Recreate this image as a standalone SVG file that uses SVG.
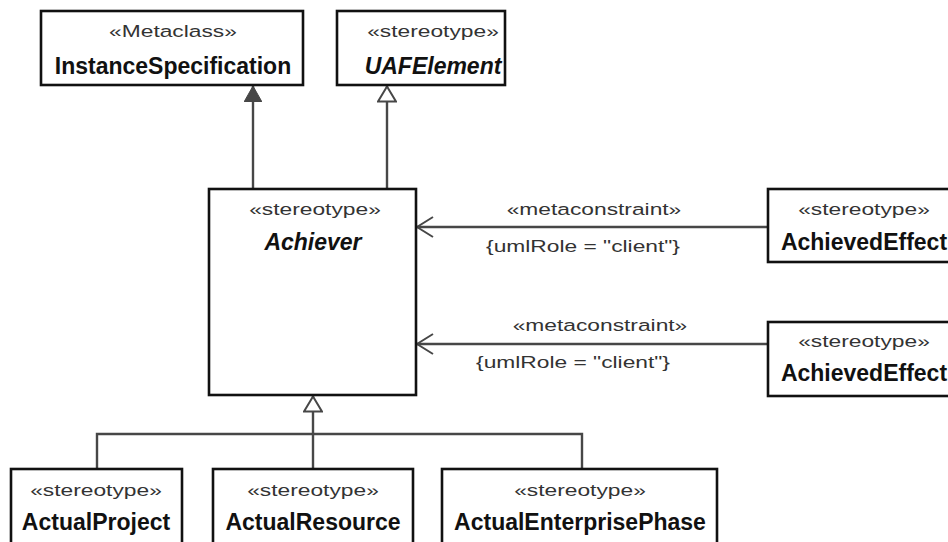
<svg xmlns="http://www.w3.org/2000/svg" width="948" height="542" viewBox="0 0 948 542">
<style>
.box{fill:#fff;stroke:#111;stroke-width:2.6}
.st{font-family:"Liberation Sans",Arial,sans-serif;font-size:17px;fill:#333;text-anchor:middle}
.nm{font-family:"Liberation Sans",Arial,sans-serif;font-size:23px;font-weight:bold;fill:#111;text-anchor:middle}
.it{font-style:italic}
.ln{fill:none;stroke:#474747;stroke-width:2.4}
</style>
<defs>
<marker id="filled" viewBox="0 0 17 18" refX="16" refY="9" markerWidth="17" markerHeight="18" markerUnits="userSpaceOnUse" orient="auto">
<path d="M0,0 L16,9 L0,18 Z" fill="#474747" stroke="#474747" stroke-width="1"/>
</marker>
<marker id="hollow" viewBox="0 0 18 20" refX="16.5" refY="10" markerWidth="18" markerHeight="20" markerUnits="userSpaceOnUse" orient="auto">
<path d="M1,1 L16,10 L1,19 Z" fill="#fff" stroke="#474747" stroke-width="2"/>
</marker>
<marker id="open" viewBox="0 0 20 22" refX="19" refY="11" markerWidth="20" markerHeight="22" markerUnits="userSpaceOnUse" orient="auto">
<path d="M3,1 L19,11 L3,21" fill="none" stroke="#474747" stroke-width="2"/>
</marker>
</defs>
<g id="connectors">
<path class="ln" d="M253,189 L253,86" marker-end="url(#filled)"/>
<path class="ln" d="M387,189 L387,86" marker-end="url(#hollow)"/>
<path class="ln" d="M768,227 L417,227" marker-end="url(#open)"/>
<path class="ln" d="M768,344 L417,344" marker-end="url(#open)"/>
<path class="ln" d="M97,469 L97,434 L582,434 L582,469"/>
<path class="ln" d="M313,469 L313,396" marker-end="url(#hollow)"/>
<text class="st" transform="translate(594,215) scale(1.34,1)">«metaconstraint»</text>
<text class="st" transform="translate(583,252) scale(1.34,1)">{umlRole = "client"}</text>
<text class="st" transform="translate(600,331) scale(1.34,1)">«metaconstraint»</text>
<text class="st" transform="translate(573,368) scale(1.34,1)">{umlRole = "client"}</text>
</g>
<g id="InstanceSpecification">
<rect class="box" x="41" y="11" width="262" height="74"/>
<text class="st" transform="translate(173,37) scale(1.34,1)">«Metaclass»</text>
<text class="nm" x="173" y="74">InstanceSpecification</text>
</g>
<g id="UAFElement">
<rect class="box" x="337" y="11" width="168" height="74"/>
<text class="st" transform="translate(433,37) scale(1.34,1)">«stereotype»</text>
<text class="nm it" x="433" y="74">UAFElement</text>
</g>
<g id="Achiever">
<rect class="box" x="209" y="189" width="207" height="206"/>
<text class="st" transform="translate(315,215) scale(1.34,1)">«stereotype»</text>
<text class="nm it" x="313" y="250">Achiever</text>
</g>
<g id="AchievedEffect1">
<rect class="box" x="768" y="189" width="200" height="73"/>
<text class="st" transform="translate(864,215) scale(1.34,1)">«stereotype»</text>
<text class="nm" x="864" y="250">AchievedEffect</text>
</g>
<g id="AchievedEffect2">
<rect class="box" x="768" y="322" width="200" height="74"/>
<text class="st" transform="translate(864,347) scale(1.34,1)">«stereotype»</text>
<text class="nm" x="864" y="381">AchievedEffect</text>
</g>
<g id="ActualProject">
<rect class="box" x="11" y="469" width="171" height="80"/>
<text class="st" transform="translate(96,496) scale(1.34,1)">«stereotype»</text>
<text class="nm" x="96" y="530">ActualProject</text>
</g>
<g id="ActualResource">
<rect class="box" x="213" y="469" width="200" height="80"/>
<text class="st" transform="translate(313,496) scale(1.34,1)">«stereotype»</text>
<text class="nm" x="313" y="530">ActualResource</text>
</g>
<g id="ActualEnterprisePhase">
<rect class="box" x="442" y="469" width="275" height="80"/>
<text class="st" transform="translate(580,496) scale(1.34,1)">«stereotype»</text>
<text class="nm" x="580" y="530">ActualEnterprisePhase</text>
</g>
</svg>
